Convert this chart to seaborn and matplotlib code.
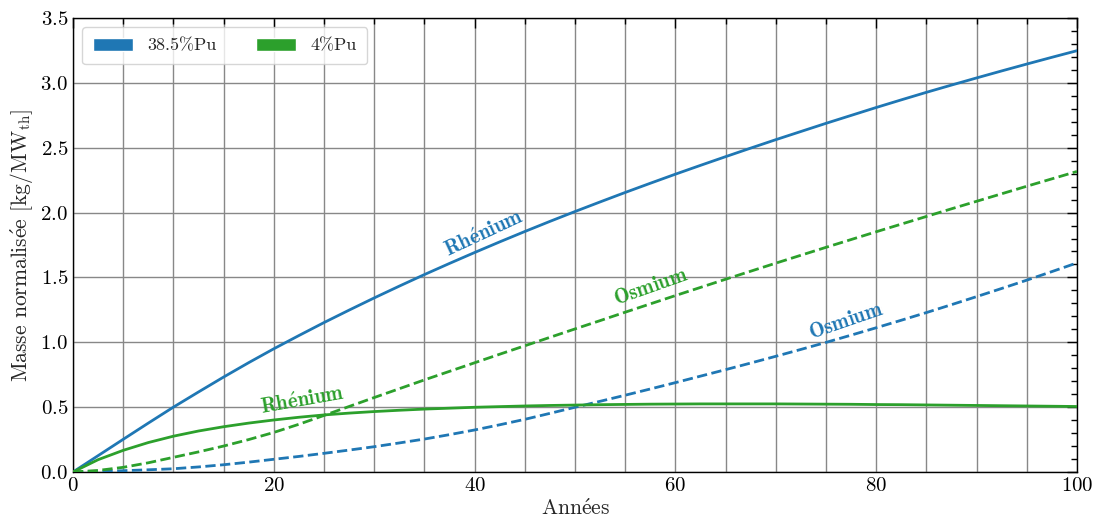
import matplotlib
matplotlib.use("Agg")
import matplotlib.pyplot as plt
import seaborn as sns
import pandas as pd
from matplotlib.patches import Patch
from matplotlib.ticker import MultipleLocator

years = [0, 2.5, 5, 7.5, 10, 12.5, 15, 17.5, 20, 22.5, 25, 27.5, 30, 32.5, 35, 37.5, 40,
         42.5, 45, 47.5, 50, 52.5, 55, 57.5, 60, 62.5, 65, 67.5, 70, 72.5, 75, 77.5, 80,
         82.5, 85, 87.5, 90, 92.5, 95, 97.5, 100]
re_385 = [0, 0.126, 0.252, 0.377, 0.50, 0.617, 0.732, 0.843, 0.95, 1.052, 1.152, 1.248, 1.342,
          1.433, 1.522, 1.608, 1.692, 1.774, 1.854, 1.932, 2.008, 2.082, 2.155, 2.226, 2.296,
          2.364, 2.431, 2.497, 2.562, 2.625, 2.688, 2.749, 2.81, 2.869, 2.927, 2.983, 3.038,
          3.092, 3.145, 3.197, 3.248]
os_385 = [0, 0.003, 0.01, 0.017, 0.025, 0.039, 0.056, 0.076, 0.098, 0.12, 0.144, 0.169, 0.195,
          0.224, 0.254, 0.288, 0.324, 0.364, 0.406, 0.452, 0.499, 0.545, 0.592, 0.64, 0.689,
          0.739, 0.789, 0.84, 0.892, 0.945, 0.999, 1.055, 1.112, 1.17, 1.229, 1.29, 1.352,
          1.415, 1.479, 1.545, 1.612]
re_4 = [0, 0.095, 0.167, 0.227, 0.276, 0.316, 0.349, 0.377, 0.401, 0.422, 0.44, 0.454, 0.466,
        0.476, 0.485, 0.492, 0.499, 0.504, 0.509, 0.513, 0.516, 0.519, 0.521, 0.523, 0.524,
        0.525, 0.525, 0.525, 0.525, 0.524, 0.523, 0.522, 0.52, 0.519, 0.517, 0.515, 0.513,
        0.511, 0.509, 0.507, 0.505]
os_4 = [0, 0.012, 0.036, 0.071, 0.113, 0.155, 0.2, 0.25, 0.305, 0.368, 0.436, 0.505, 0.574,
        0.642, 0.71, 0.776, 0.842, 0.908, 0.973, 1.038, 1.103, 1.167, 1.232, 1.296, 1.36,
        1.423, 1.486, 1.548, 1.61, 1.671, 1.732, 1.792, 1.852, 1.911, 1.97, 2.029, 2.087,
        2.145, 2.203, 2.26, 2.317]

legend_labels = ["38.5%Pu", "4%Pu"]
blue = "#1f77b4"
green = "#2ca02c"

sns.set_style("white")
plt.rcParams["font.family"] = ["cmr10", "DejaVu Serif"]
plt.rcParams["mathtext.fontset"] = "cm"
plt.rcParams["axes.formatter.use_mathtext"] = True

fig, ax = plt.subplots(figsize=(11, 5.26), dpi=100)
fig.subplots_adjust(left=73/1100, right=1077/1100, top=1-18/526, bottom=1-472/526)

series = [
    (re_385, blue, "-"),
    (os_385, blue, "--"),
    (re_4, green, "-"),
    (os_4, green, "--"),
]
for vals, col, ls in series:
    df = pd.DataFrame({"x": years, "y": vals})
    sns.lineplot(data=df, x="x", y="y", ax=ax, color=col, linestyle=ls, linewidth=2, zorder=3)

ax.set_xlim(0, 100)
ax.set_ylim(0, 3.5)
ax.xaxis.set_major_locator(MultipleLocator(20))
ax.xaxis.set_minor_locator(MultipleLocator(5))
ax.yaxis.set_major_locator(MultipleLocator(0.5))
ax.yaxis.set_minor_locator(MultipleLocator(0.1))
ax.tick_params(which="both", direction="in", top=True, right=True, labelsize=15, colors="black")
ax.tick_params(which="major", length=7, width=1)
ax.tick_params(which="minor", length=4, width=1)
ax.grid(True, which="major", axis="y", color="#888888", linewidth=1)
ax.grid(True, which="both", axis="x", color="#888888", linewidth=1)
for s in ax.spines.values():
    s.set_color("black")
    s.set_linewidth(1)

ax.set_xlabel(r"Ann$\acute{\mathrm{e}}$es", fontsize=15.5, labelpad=2)
ax.set_ylabel(r"Masse normalis$\acute{\mathrm{e}}$e [kg/MW$_{\mathrm{th}}$]", fontsize=15.5, labelpad=4)

fs = 15
ax.text(41, 1.84, r"$\mathbf{Rh\acute{e}nium}$", color=blue, fontsize=fs, rotation=25, ha="center", va="center")
ax.text(57.6, 1.43, r"$\mathbf{Osmium}$", color=green, fontsize=fs, rotation=19.5, ha="center", va="center")
ax.text(77, 1.16, r"$\mathbf{Osmium}$", color=blue, fontsize=fs, rotation=19, ha="center", va="center")
ax.text(22.9, 0.55, r"$\mathbf{Rh\acute{e}nium}$", color=green, fontsize=fs, rotation=10, ha="center", va="center")

handles = [Patch(facecolor=blue), Patch(facecolor=green)]
ax.legend(handles, legend_labels, loc="upper left", ncol=2, fontsize=13, frameon=True,
          handlelength=2.2, columnspacing=2.2, borderpad=0.6)

fig.savefig("out.png", dpi=100)
